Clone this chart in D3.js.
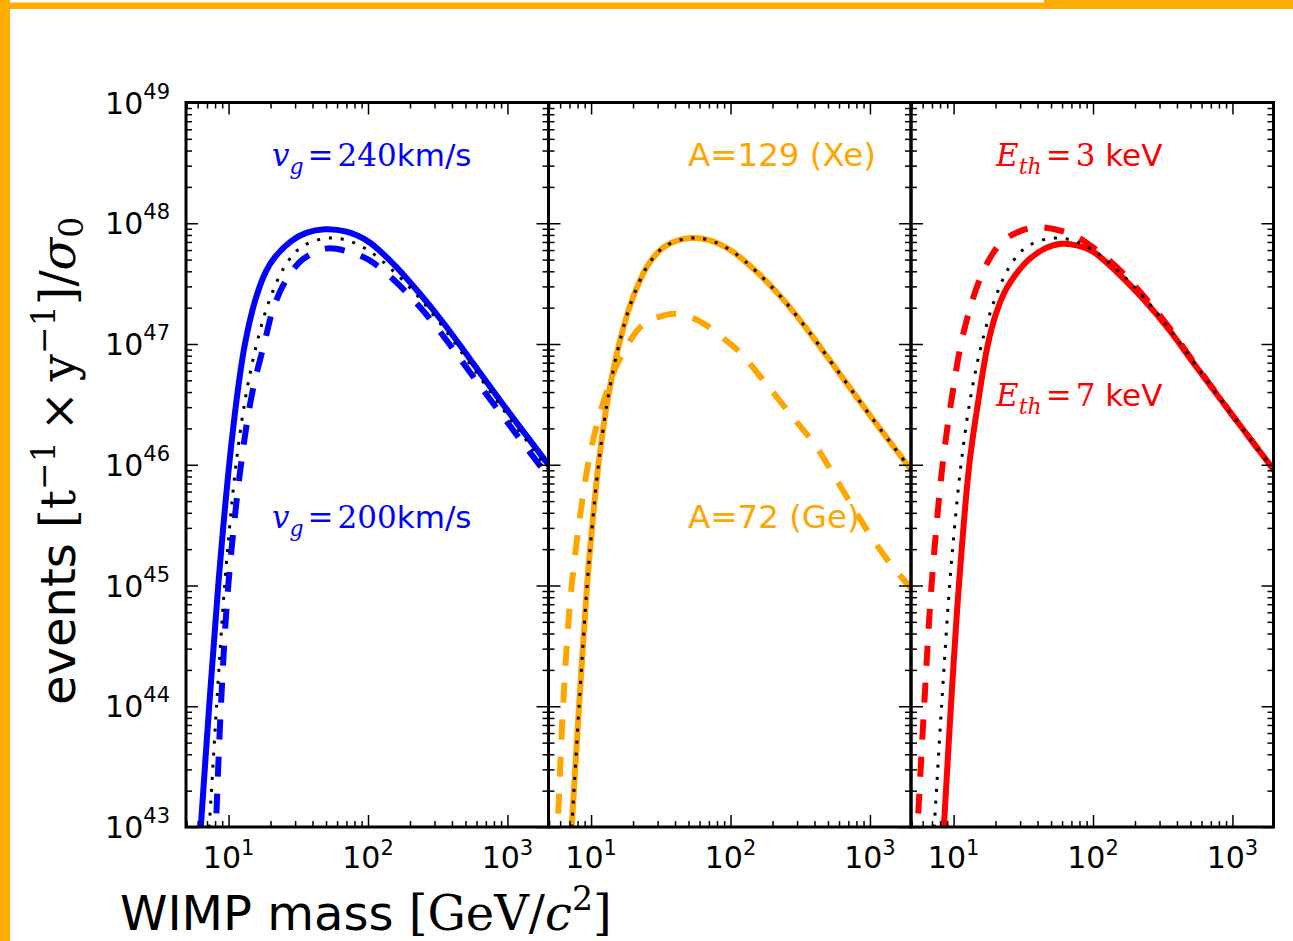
<!DOCTYPE html>
<html>
<head>
<meta charset="utf-8">
<script src="https://cdn.jsdelivr.net/npm/d3@7"></script>
<style>
  body { margin: 0; background: #fff; }
  svg { display: block; }
</style>
</head>
<body>
<svg id="chart" width="1293" height="941"></svg>
<script>
// ── Datos: masa WIMP [GeV/c²] y log10(eventos / σ0) ──

// referencia (curva punteada negra, igual en los tres paneles)
const refMass    = [6.76, 7.26, 8.2, 9.36, 10.2, 11.3, 13.2, 15.9, 19.6, 25.8, 34, 51.5, 70, 100, 150, 234, 350, 535, 1000, 2000];
const refLogRate = [42.5, 43.0, 44.0, 45.0, 45.5, 46.0, 46.55, 47.0, 47.36, 47.66, 47.81, 47.877, 47.86, 47.777, 47.61, 47.38, 47.13, 46.84, 46.41, 45.95];

// panel 1 — velocidad galáctica
const vg240Mass    = [5.9, 6.32, 7.26, 8.43, 10.1, 11.6, 13.1, 15.5, 18.5, 21.5, 28, 36, 49, 70, 100, 150, 234, 350, 535, 1000, 2000];
const vg240LogRate = [42.5, 43.0, 44.0, 45.0, 46.0, 46.6, 47.0, 47.36, 47.6, 47.72, 47.85, 47.92, 47.95, 47.93, 47.85, 47.67, 47.42, 47.17, 46.88, 46.45, 45.99];
const vg200Mass    = [7.78, 8.11, 8.81, 9.95, 12.27, 14.8, 18, 21, 25.8, 34, 50, 70, 100, 150, 234, 350, 535, 1000, 2000];
const vg200LogRate = [42.5, 43.0, 44.0, 45.0, 46.0, 46.6, 47.0, 47.3, 47.527, 47.70, 47.79, 47.77, 47.70, 47.54, 47.31, 47.06, 46.77, 46.35, 45.89];

// panel 2 — núcleo blanco (Xe coincide con la referencia)
const xeMass    = refMass;
const xeLogRate = refLogRate;
const geMass    = [5.4, 5.75, 6.3, 7.26, 9.5, 11.3, 13.3, 15.8, 22.6, 30, 41, 55, 70, 100, 117, 183, 300, 407, 566, 811, 1000, 1400, 2000];
const geLogRate = [42.5, 43.0, 44.0, 45.0, 46.0, 46.38, 46.64, 46.86, 47.14, 47.22, 47.25, 47.21, 47.14, 47.0, 46.93, 46.66, 46.35, 46.16, 45.89, 45.59, 45.42, 45.18, 44.97];

// panel 3 — umbral de energía
const eth3Mass    = [5.2, 5.51, 6.15, 6.95, 8.34, 9.7, 11.3, 13, 15, 18, 22, 28, 40, 69.6, 100, 150, 234, 350, 535, 1000, 2000];
const eth3LogRate = [42.5, 43.0, 44.0, 45.0, 46.0, 46.55, 47.0, 47.28, 47.5, 47.7, 47.84, 47.92, 47.967, 47.91, 47.80, 47.63, 47.39, 47.14, 46.84, 46.41, 45.95];
const eth7Mass    = [8.0, 8.52, 9.57, 10.92, 12.96, 15, 17.5, 20, 23, 25.8, 34, 45, 59, 78, 100, 150, 234, 350, 535, 1000, 2000];
const eth7LogRate = [42.5, 43.0, 44.0, 45.0, 46.0, 46.52, 46.98, 47.24, 47.42, 47.52, 47.69, 47.79, 47.83, 47.815, 47.765, 47.59, 47.36, 47.12, 46.83, 46.41, 45.95];

// ejes
const massLimits  = [4.95, 1970];
const rateLimits  = [1e43, 1e49];
const xMajorTicks = [10, 100, 1000];
const xTickExps   = ["1", "2", "3"];
const yMajorTicks = [1e43, 1e44, 1e45, 1e46, 1e47, 1e48, 1e49];
const yTickExps   = ["43", "44", "45", "46", "47", "48", "49"];

// ── Layout ──
const BLUE = "#0000ff", ORANGE = "#ffa500", RED = "#ff0000";
const FRAME = "#ffae00";
const TOP = 102.5, BOTTOM = 827;
const PANEL_X = [186, 548.5, 911], PANEL_W = 362.5;
const SANS = "'DejaVu Sans', sans-serif";
const MATH = "'DejaVu Serif', serif";

const svg = d3.select("#chart");

// Marco naranja de la diapositiva
svg.append("rect").attr("x", 0).attr("y", 0).attr("width", 1293).attr("height", 9).attr("fill", FRAME);
svg.append("rect").attr("x", 10).attr("y", 0).attr("width", 1034).attr("height", 2.5).attr("fill", "#fff");
svg.append("rect").attr("x", 0).attr("y", 0).attr("width", 10).attr("height", 941).attr("fill", FRAME);

const y = d3.scaleLog().domain(rateLimits).range([BOTTOM, TOP]);

function minorTicks(lo, hi) {
  const out = [];
  for (let p = Math.floor(Math.log10(lo)); p <= Math.ceil(Math.log10(hi)); p++) {
    for (let k = 2; k <= 9; k++) {
      const v = k * 10 ** p;
      if (v > lo && v < hi) out.push(v);
    }
  }
  return out;
}
const xMinor = minorTicks(massLimits[0], massLimits[1]);
const yMinor = minorTicks(rateLimits[0], rateLimits[1]);

const SOLID = { width: 6 };
const DASHED = { width: 6, dash: "20,17" };
const DOTTED = { width: 3, dash: "3,9" };

const panels = [
  {
    curves: [
      { mass: vg240Mass, rate: vg240LogRate, color: BLUE, ...SOLID },
      { mass: vg200Mass, rate: vg200LogRate, color: BLUE, ...DASHED },
      { mass: refMass, rate: refLogRate, color: "#000", ...DOTTED },
    ],
    notes: [
      { x: 272, y: 166, color: BLUE, parts: [["v", "mi"], ["g", "sub"], ["=", "mo"], ["240", "mn"], ["km/s", "txt"]] },
      { x: 272, y: 528, color: BLUE, parts: [["v", "mi"], ["g", "sub"], ["=", "mo"], ["200", "mn"], ["km/s", "txt"]] },
    ],
  },
  {
    curves: [
      { mass: xeMass, rate: xeLogRate, color: ORANGE, ...SOLID },
      { mass: geMass, rate: geLogRate, color: ORANGE, ...DASHED },
      { mass: refMass, rate: refLogRate, color: "#000", ...DOTTED },
    ],
    notes: [
      { x: 688, y: 166, color: ORANGE, parts: [["A=129 (Xe)", "txt"]] },
      { x: 688, y: 528, color: ORANGE, parts: [["A=72 (Ge)", "txt"]] },
    ],
  },
  {
    curves: [
      { mass: eth3Mass, rate: eth3LogRate, color: RED, ...DASHED },
      { mass: eth7Mass, rate: eth7LogRate, color: RED, ...SOLID },
      { mass: refMass, rate: refLogRate, color: "#000", ...DOTTED },
    ],
    notes: [
      { x: 996, y: 166, color: RED, parts: [["E", "mi"], ["th", "sub"], ["=", "mo"], ["3", "mn"], [" keV", "txt"]] },
      { x: 996, y: 406, color: RED, parts: [["E", "mi"], ["th", "sub"], ["=", "mo"], ["7", "mn"], [" keV", "txt"]] },
    ],
  },
];

// texto con partes matemáticas (serif) y texto normal (sans)
function mathText(g, note) {
  const t = g.append("text").attr("x", note.x).attr("y", note.y)
    .attr("fill", note.color).attr("font-size", 31);
  let shifted = false;
  note.parts.forEach(([s, kind]) => {
    const ts = t.append("tspan").text(s);
    let dy = 0, dx = 0;
    if (kind === "sub") { dy = 8; shifted = true; }
    else if (shifted) { dy = -8; shifted = false; }
    if (kind === "mo" || kind === "mn") dx = 4;
    ts.attr("font-family", kind === "txt" ? SANS : MATH);
    if (kind === "txt" && s.startsWith("A")) ts.attr("font-size", 32.5);
    if (kind === "mi" || kind === "sub") ts.attr("font-style", "italic");
    if (kind === "sub") ts.attr("font-size", 22);
    if (dy) ts.attr("dy", dy);
    if (dx) ts.attr("dx", dx);
  });
}

panels.forEach((p, i) => {
  const x0 = PANEL_X[i], x1 = x0 + PANEL_W;
  const x = d3.scaleLog().domain(massLimits).range([x0, x1]);
  const g = svg.append("g");

  g.append("clipPath").attr("id", "clip" + i)
    .append("rect").attr("x", x0).attr("y", TOP).attr("width", PANEL_W).attr("height", BOTTOM - TOP);

  // ── curvas ──
  const line = d3.line()
    .x(d => x(d[0]))
    .y(d => y(10 ** d[1]))
    .curve(d3.curveCatmullRom.alpha(0.5));

  const cg = g.append("g").attr("clip-path", `url(#clip${i})`);
  p.curves.forEach(c => {
    cg.append("path")
      .datum(c.mass.map((m, j) => [m, c.rate[j]]))
      .attr("d", line)
      .attr("fill", "none")
      .attr("stroke", c.color)
      .attr("stroke-width", c.width)
      .attr("stroke-dasharray", c.dash || null)
      .attr("stroke-linecap", "butt")
      .attr("stroke-linejoin", "round");
  });

  // ── ticks (hacia dentro, en los cuatro lados) ──
  const tickAxis = (axisFn, scale, values, size, tx, ty) => {
    const a = g.append("g").attr("transform", `translate(${tx},${ty})`)
      .call(axisFn(scale).tickValues(values).tickSize(-size).tickFormat(""));
    a.select(".domain").remove();
    a.selectAll(".tick line").attr("stroke", "#000").attr("stroke-width", 1.5);
  };
  tickAxis(d3.axisBottom, x, xMajorTicks, 12, 0, BOTTOM);
  tickAxis(d3.axisBottom, x, xMinor, 6, 0, BOTTOM);
  tickAxis(d3.axisTop, x, xMajorTicks, 12, 0, TOP);
  tickAxis(d3.axisTop, x, xMinor, 6, 0, TOP);
  tickAxis(d3.axisLeft, y, yMajorTicks, 12, x0, 0);
  tickAxis(d3.axisLeft, y, yMinor, 6, x0, 0);
  tickAxis(d3.axisRight, y, yMajorTicks, 12, x1, 0);
  tickAxis(d3.axisRight, y, yMinor, 6, x1, 0);

  // marco
  g.append("rect").attr("x", x0).attr("y", TOP).attr("width", PANEL_W).attr("height", BOTTOM - TOP)
    .attr("fill", "none").attr("stroke", "#000").attr("stroke-width", 3);

  // etiquetas eje x: 10^n
  xMajorTicks.forEach((v, k) => {
    const t = g.append("text").attr("x", x(v)).attr("y", 868)
      .attr("text-anchor", "middle").attr("font-family", SANS).attr("font-size", 30).attr("fill", "#000");
    t.append("tspan").text("10");
    t.append("tspan").attr("font-size", 21).attr("dy", -13).text(xTickExps[k]);
  });

  // etiquetas eje y solo en el primer panel
  if (i === 0) {
    yMajorTicks.forEach((v, k) => {
      const t = g.append("text").attr("x", 170).attr("y", y(v) + 11)
        .attr("text-anchor", "end").attr("font-family", SANS).attr("font-size", 30).attr("fill", "#000");
      t.append("tspan").text("10");
      t.append("tspan").attr("font-size", 21).attr("dy", -15).text(yTickExps[k]);
    });
  }

  p.notes.forEach(n => mathText(g, n));
});

// ── títulos de ejes ──
const xl = svg.append("text").attr("x", 120).attr("y", 930).attr("font-size", 48).attr("fill", "#000");
xl.append("tspan").attr("font-family", SANS).text("WIMP mass ");
xl.append("tspan").attr("font-family", MATH).text("[GeV/");
xl.append("tspan").attr("font-family", MATH).attr("font-style", "italic").text("c");
xl.append("tspan").attr("font-family", MATH).attr("font-size", 33).attr("dy", -20).text("2");
xl.append("tspan").attr("font-family", MATH).attr("dy", 20).text("]");

const yl = svg.append("text").attr("transform", "translate(75,705) rotate(-90)")
  .attr("font-size", 48).attr("fill", "#000");
yl.append("tspan").attr("font-family", SANS).text("events ");
yl.append("tspan").attr("font-family", MATH).text("[t");
yl.append("tspan").attr("font-family", MATH).attr("font-size", 33).attr("dy", -20).text("−1");
yl.append("tspan").attr("font-family", MATH).attr("dy", 20).attr("dx", 10).text("×");
yl.append("tspan").attr("font-family", MATH).attr("dx", 10).text("y");
yl.append("tspan").attr("font-family", MATH).attr("font-size", 33).attr("dy", -20).text("−1");
yl.append("tspan").attr("font-family", MATH).attr("dy", 20).text("]/");
yl.append("tspan").attr("font-family", MATH).attr("font-style", "italic").text("σ");
yl.append("tspan").attr("font-family", MATH).attr("font-size", 33).attr("dy", 8).text("0");
</script>
</body>
</html>
